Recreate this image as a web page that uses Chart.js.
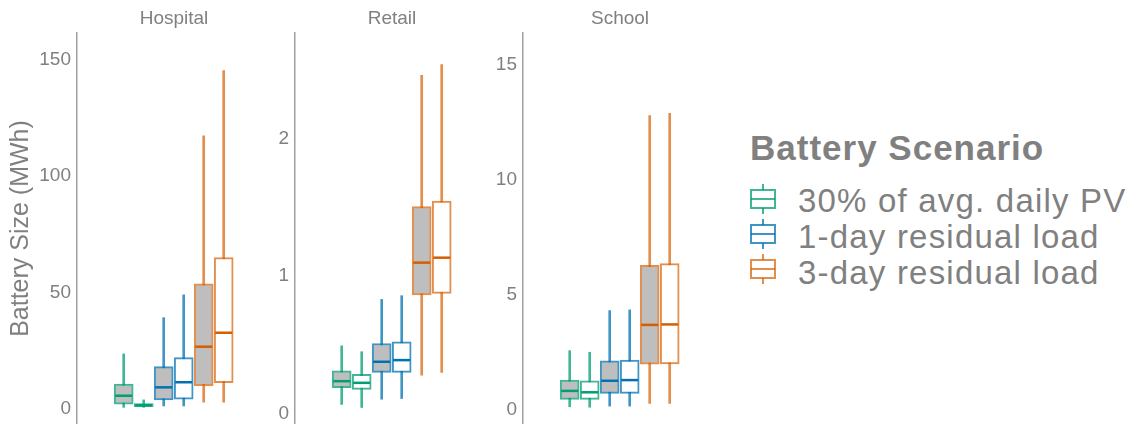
<!DOCTYPE html>
<html lang="en">
<head>
  <meta charset="UTF-8">
  <title>Battery Size by Building Type</title>
  <script src="https://cdn.jsdelivr.net/npm/chart.js"></script>
  <style>
    body { margin: 0; background: #fff; font-family: 'Liberation Sans', Arial, sans-serif; }
    #wrap { position: relative; width: 1140px; height: 424px; overflow: hidden; }
    #wrap canvas { position: absolute; top: 0; }
    #legend { position: absolute; left: 0; top: 0; color: #808080; }
    #legend .title { position: absolute; left: 750px; top: 130px; font-size: 35px; line-height: 35px; font-weight: bold; letter-spacing: 1px; white-space: nowrap; }
    #legend .item { position: absolute; left: 798px; font-size: 33px; line-height: 33px; letter-spacing: 1.2px; white-space: nowrap; }
    #legend svg { position: absolute; left: 748px; }
  </style>
</head>
<body>

  <div id="wrap">
    <canvas id="hospital" width="271" height="424" style="left:0px"></canvas>
    <canvas id="retail" width="219" height="424" style="left:270px"></canvas>
    <canvas id="school" width="229" height="424" style="left:488px"></canvas>
    <div id="legend"></div>
  </div>

  <script>
    const facets = ['Hospital', 'Retail', 'School'];
    const scenarios = ['30% of avg. daily PV', '1-day residual load', '3-day residual load'];
    // two boxes per scenario: grey filled one, then white one
    const boxPos = [1, 2, 3, 4, 5, 6];

    // Hospital (MWh)
    const hospitalMin = [0.5, 0.5, 1.1, 1.1, 2.7, 2.7];
    const hospitalQ1 = [1.9, 0.8, 3.7, 4.0, 9.8, 11.1];
    const hospitalMed = [5.5, 1.4, 9.1, 11.3, 26.6, 32.6];
    const hospitalQ3 = [10.5, 2.1, 18.0, 21.9, 53.6, 64.9];
    const hospitalMax = [23.5, 3.7, 39.1, 48.9, 117.3, 145.4];
    const hospitalTicks = [0, 50, 100, 150];

    // Retail (MWh)
    const retailMin = [0.067, 0.045, 0.105, 0.11, 0.28, 0.30];
    const retailQ1 = [0.188, 0.176, 0.30, 0.30, 0.862, 0.874];
    const retailMed = [0.236, 0.224, 0.377, 0.389, 1.097, 1.133];
    const retailQ3 = [0.311, 0.285, 0.51, 0.522, 1.504, 1.545];
    const retailMax = [0.493, 0.45, 0.83, 0.857, 2.457, 2.535];
    const retailTicks = [0, 1, 2];

    // School (MWh)
    const schoolMin = [0.14, 0.12, 0.17, 0.17, 0.29, 0.29];
    const schoolQ1 = [0.46, 0.46, 0.72, 0.72, 1.99, 2.0];
    const schoolMed = [0.83, 0.77, 1.27, 1.30, 3.70, 3.72];
    const schoolQ3 = [1.30, 1.27, 2.14, 2.17, 6.29, 6.36];
    const schoolMax = [2.58, 2.51, 4.32, 4.35, 12.80, 12.90];
    const schoolTicks = [0, 5, 10, 15];

    const lineColors = ['rgba(0,158,115,0.75)', 'rgba(0,114,178,0.75)', 'rgba(213,94,0,0.7)'];
    const medianColors = ['#009E73', '#0072B2', '#D55E00'];
    const boxFills = ['#bebebe', '#ffffff', '#bebebe', '#ffffff', '#bebebe', '#ffffff'];
    const textGrey = '#808080';

    Chart.defaults.font.family = "'Liberation Sans', Arial, sans-serif";

    const panels = [
      { id: 'hospital', name: facets[0], axisW: 77, yMin: -6.67, yMax: 161.6, ticks: hospitalTicks,
        lo: hospitalMin, q1: hospitalQ1, med: hospitalMed, q3: hospitalQ3, hi: hospitalMax, yTitle: true },
      { id: 'retail', name: facets[1], axisW: 25, yMin: -0.075, yMax: 2.765, ticks: retailTicks,
        lo: retailMin, q1: retailQ1, med: retailMed, q3: retailQ3, hi: retailMax },
      { id: 'school', name: facets[2], axisW: 35, yMin: -0.609, yMax: 16.39, ticks: schoolTicks,
        lo: schoolMin, q1: schoolQ1, med: schoolMed, q3: schoolQ3, hi: schoolMax }
    ];

    function makeFacet(p) {
      const scen = boxPos.map((x, i) => Math.floor(i / 2));
      new Chart(document.getElementById(p.id), {
        type: 'bar',
        data: {
          datasets: [
            { // whiskers, drawn behind the boxes
              label: 'whisker',
              data: boxPos.map((x, i) => ({ x, y: [p.lo[i], p.hi[i]] })),
              backgroundColor: scen.map(s => lineColors[s]),
              borderWidth: 0,
              barThickness: 2,
              grouped: false,
              order: 3
            },
            {
              label: 'box',
              data: boxPos.map((x, i) => ({ x, y: [p.q1[i], p.q3[i]] })),
              backgroundColor: boxFills,
              borderColor: scen.map(s => lineColors[s]),
              borderWidth: 2,
              borderSkipped: false,
              barThickness: 19,
              grouped: false,
              order: 2
            },
            {
              type: 'line',
              label: 'median',
              data: boxPos.map((x, i) => ({ x, y: p.med[i] })),
              showLine: false,
              pointStyle: 'line',
              pointRadius: 8.5,
              pointHoverRadius: 8.5,
              pointBorderWidth: 2.5,
              pointBorderColor: scen.map(s => medianColors[s]),
              order: 1
            }
          ]
        },
        options: {
          responsive: false,
          animation: false,
          events: [],
          layout: { padding: 0, autoPadding: false },
          plugins: { legend: { display: false }, tooltip: { enabled: false } },
          scales: {
            x: {
              type: 'linear',
              position: 'top',
              offset: false,
              min: -1.335,
              max: 8.365,
              grid: { display: false, drawTicks: false, offset: false },
              border: { display: false },
              ticks: { display: false },
              title: { display: true, text: p.name, color: textGrey, font: { size: 19 }, padding: { top: 7.6, bottom: 0 } },
              afterBuildTicks: s => { s.ticks = boxPos.map(v => ({ value: v })); },
              afterFit: s => { s.height = 33; s.paddingLeft = 0; s.paddingRight = 0; }
            },
            y: {
              min: p.yMin,
              max: p.yMax,
              grid: { display: false, drawTicks: false },
              border: { display: true, color: '#a0a0a0', width: 1.5 },
              ticks: { color: textGrey, font: { size: 19 }, padding: 6 },
              title: {
                display: !!p.yTitle,
                text: 'Battery Size (MWh)',
                color: textGrey,
                font: { size: 25 },
                padding: { top: 6, bottom: 0 }
              },
              afterBuildTicks: s => { s.ticks = p.ticks.map(v => ({ value: v })); },
              // pin the axis width and drop the label overflow padding
              afterFit: s => { s.width = p.axisW; s.paddingTop = 0; s.paddingBottom = 0; }
            }
          }
        }
      });
    }

    panels.forEach(makeFacet);

    // legend with little boxplot keys
    const legend = document.getElementById('legend');
    legend.innerHTML = '<div class="title">Battery Scenario</div>';
    scenarios.forEach((name, k) => {
      const mid = 199 + k * 35;
      const c = lineColors[k];
      legend.innerHTML += `
        <svg width="30" height="32" style="top:${mid - 16}px">
          <line x1="15" y1="1" x2="15" y2="7" stroke="${c}" stroke-width="2"/>
          <line x1="15" y1="25" x2="15" y2="31" stroke="${c}" stroke-width="2"/>
          <rect x="3" y="7" width="24" height="18" fill="#fff" stroke="${c}" stroke-width="2"/>
          <line x1="3" y1="16" x2="27" y2="16" stroke="${c}" stroke-width="2"/>
        </svg>
        <div class="item" style="top:${184 + k * 36}px">${name}</div>`;
    });
  </script>
</body>
</html>
